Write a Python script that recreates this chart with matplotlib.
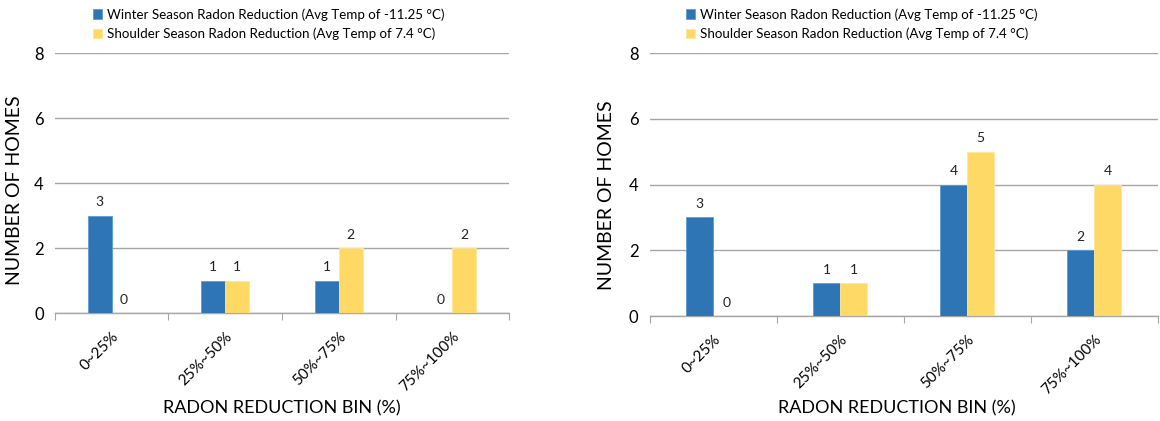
import matplotlib.pyplot as plt
import numpy as np

plt.rcParams['font.family'] = ['Lato', 'DejaVu Sans']

# Homes per radon reduction bin
bins = ['0~25%', '25%~50%', '50%~75%', '75%~100%']
winter_left = [3, 1, 1, 0]
shoulder_left = [0, 1, 2, 2]
winter_right = [3, 1, 4, 2]
shoulder_right = [0, 1, 5, 4]

winter_label = 'Winter Season Radon Reduction (Avg Temp of -11.25 °C)'
shoulder_label = 'Shoulder Season Radon Reduction (Avg Temp of 7.4 °C)'
blue = '#2E75B6'
yellow = '#FFD966'

fig = plt.figure(figsize=(11.6, 4.21), dpi=100)
ax1 = fig.add_axes([0.0474, 0.2565, 0.3914, 0.6175])
ax2 = fig.add_axes([0.560, 0.249, 0.438, 0.625])

x = np.arange(len(bins))
w = 0.21

for ax, winter, shoulder in [(ax1, winter_left, shoulder_left), (ax2, winter_right, shoulder_right)]:
    b1 = ax.bar(x - w / 2, winter, w, color=blue, edgecolor='#5B9BD5', linewidth=0.6, label=winter_label, zorder=3)
    b2 = ax.bar(x + w / 2, shoulder, w, color=yellow, edgecolor='#FFE699', linewidth=0.6, label=shoulder_label, zorder=3)
    for bars in (b1, b2):
        for bar in bars:
            h = bar.get_height()
            ax.text(bar.get_x() + bar.get_width() / 2, h + 0.22, f'{h:g}',
                    ha='center', va='bottom', fontsize=10, color='#222222')
    ax.set_xlim(-0.5, len(bins) - 0.5)
    ax.set_ylim(0, 8)
    ax.set_yticks([0, 2, 4, 6, 8])
    ax.yaxis.grid(True, color='#A6A6A6', linewidth=1.0, zorder=0)
    ax.set_axisbelow(True)
    for side in ['top', 'right', 'left']:
        ax.spines[side].set_visible(False)
    ax.spines['bottom'].set_color('#A6A6A6')
    ax.spines['bottom'].set_linewidth(1.0)
    # category boundaries carry the tick marks, centres carry the labels
    ax.set_xticks(np.arange(len(bins) + 1) - 0.5, minor=False)
    ax.set_xticklabels([])
    ax.tick_params(axis='x', which='major', length=5, color='#A6A6A6', direction='out')
    ax.set_xticks(x, minor=True)
    ax.set_xticklabels(bins, minor=True, rotation=45, ha='right', rotation_mode='anchor', fontsize=11)
    ax.tick_params(axis='x', which='minor', length=0, pad=12)
    ax.tick_params(axis='y', length=0, labelsize=12, pad=8)
    ax.legend(loc='upper left', bbox_to_anchor=(0.065, 1.0), bbox_transform=fig.transFigure,
              frameon=False, fontsize=9.6, handlelength=0.7, handleheight=0.7,
              handletextpad=0.35, labelspacing=0.55, borderaxespad=0.2)

# legends sit above each panel, anchored in figure coordinates
ax1.get_legend().set_bbox_to_anchor((55 / 1160 + 0.065 * 0.3914, 1.0), transform=fig.transFigure)
ax2.get_legend().set_bbox_to_anchor((0.560 + 0.065 * 0.438 - 0.004, 1.0), transform=fig.transFigure)

fig.text(0.243, 1 - 408 / 421, 'RADON REDUCTION BIN (%)', ha='center', va='center', fontsize=13)
fig.text(0.773, 1 - 408 / 421, 'RADON REDUCTION BIN (%)', ha='center', va='center', fontsize=13)
fig.text(15 / 1160, 1 - 190 / 421, 'NUMBER OF HOMES', ha='center', va='center', rotation=90, fontsize=14)
fig.text(607 / 1160, 1 - 195 / 421, 'NUMBER OF HOMES', ha='center', va='center', rotation=90, fontsize=14)

fig.savefig('out.png', dpi=100)
